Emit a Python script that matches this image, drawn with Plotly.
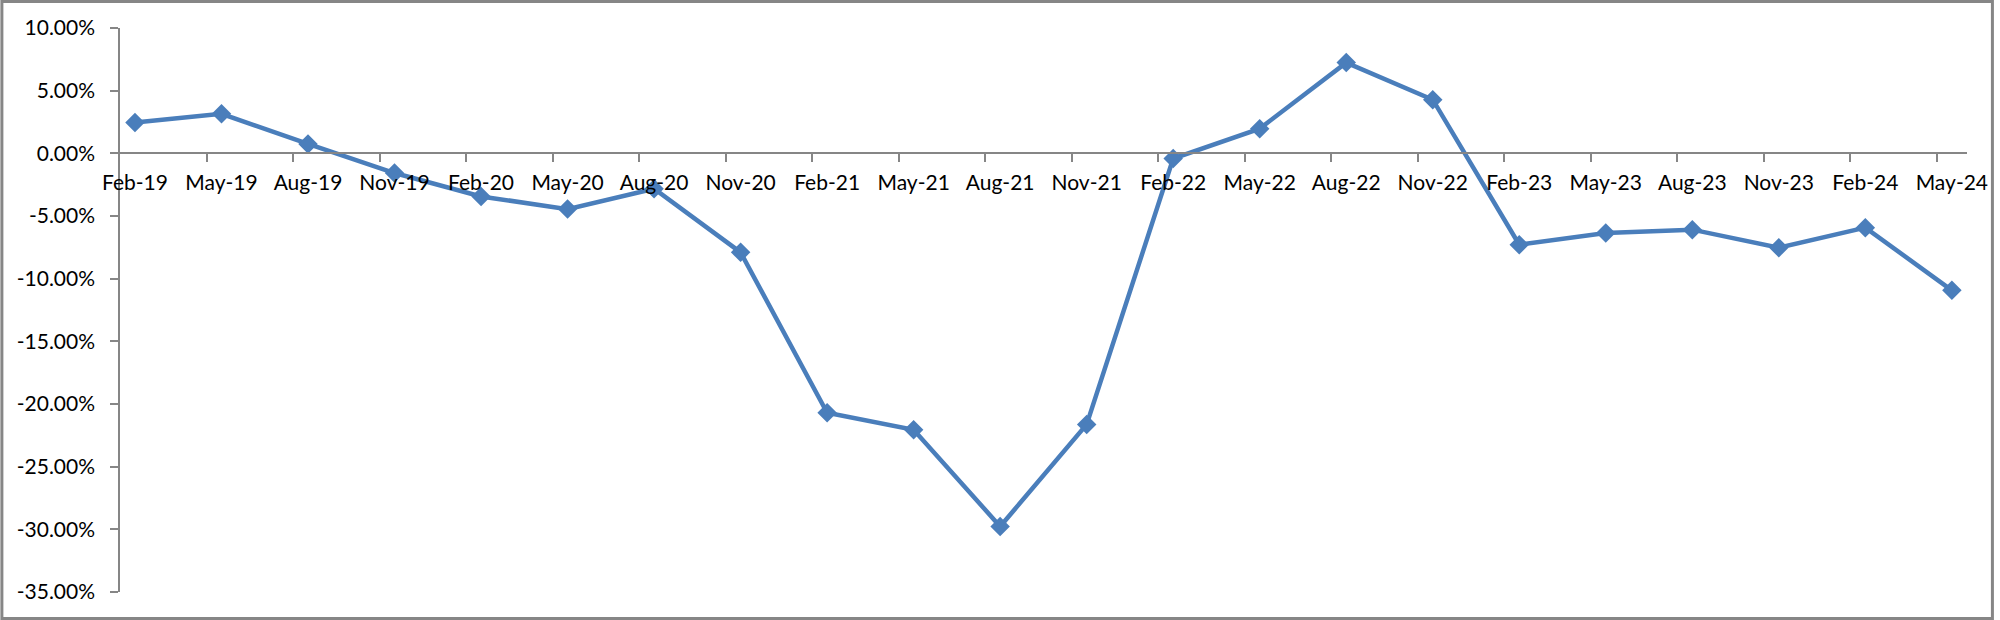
import plotly.graph_objects as go

categories = ["Feb-19", "May-19", "Aug-19", "Nov-19", "Feb-20", "May-20", "Aug-20", "Nov-20",
              "Feb-21", "May-21", "Aug-21", "Nov-21", "Feb-22", "May-22", "Aug-22", "Nov-22",
              "Feb-23", "May-23", "Aug-23", "Nov-23", "Feb-24", "May-24"]
values = [2.46, 3.15, 0.75, -1.57, -3.44, -4.45, -2.83, -7.90,
          -20.70, -22.05, -29.77, -21.63, -0.42, 1.97, 7.24, 4.28,
          -7.29, -6.36, -6.09, -7.53, -5.93, -10.93]
y_ticks = [10, 5, 0, -5, -10, -15, -20, -25, -30, -35]

W, H = 2000, 620
ML, MR, MT, MB = 120, 27, 28, 28
PW, PH = W - ML - MR, H - MT - MB

idx = list(range(len(categories)))
offset = 0.173          # categories sit a little right of the tick marks
x_range = [-offset, 21.175]
y_range = [-35, 10]
zero_pos = (0 - y_range[0]) / (y_range[1] - y_range[0])

AXIS = "#868686"
BLUE = "#4A7EBB"
FONT = dict(family="Lato, 'Open Sans', sans-serif", size=21, color="#000000")

fig = go.Figure()
fig.add_trace(go.Scatter(
    x=idx, y=values, mode="lines+markers",
    line=dict(color=BLUE, width=4.5),
    marker=dict(symbol="diamond", size=15, color=BLUE, line=dict(width=0)),
    showlegend=False, hoverinfo="skip", cliponaxis=False,
))
# helper trace for the tick-mark axis
fig.add_trace(go.Scatter(
    x=idx, y=values, xaxis="x2", mode="lines",
    line=dict(width=0, color="rgba(0,0,0,0)"), showlegend=False, hoverinfo="skip",
))

fig.update_layout(
    width=W, height=H, autosize=False,
    margin=dict(l=ML, r=MR, t=MT, b=MB, pad=0),
    paper_bgcolor="white", plot_bgcolor="white",
    font=FONT,
    xaxis=dict(
        range=x_range, tickmode="array", tickvals=idx, ticktext=categories,
        ticks="outside", ticklen=11, tickcolor="rgba(0,0,0,0)",
        showline=True, linecolor=AXIS, linewidth=1.5,
        showgrid=False, zeroline=False,
        anchor="free", position=zero_pos, tickfont=FONT,
    ),
    xaxis2=dict(
        range=x_range, overlaying="x", anchor="free", position=zero_pos,
        tickmode="array", tickvals=[k - offset for k in range(1, 22)],
        ticks="outside", ticklen=8, tickcolor=AXIS, tickwidth=1.5,
        showticklabels=False, showline=False, showgrid=False, zeroline=False,
        side="bottom",
    ),
    yaxis=dict(
        range=y_range, tickmode="array", tickvals=y_ticks,
        ticktext=[f"{v:.2f}%" for v in y_ticks],
        ticks="outside", ticklen=8, tickcolor=AXIS, tickwidth=1.5,
        showline=True, linecolor=AXIS, linewidth=1.5,
        showgrid=False, zeroline=False, tickfont=FONT,
        ticklabelstandoff=11,
    ),
    shapes=[dict(
        type="rect", xref="paper", yref="paper",
        x0=(-ML + 1.5) / PW, x1=1 + (MR - 1.5) / PW,
        y0=(-MB + 1.5) / PH, y1=1 + (MT - 1.5) / PH,
        line=dict(color=AXIS, width=3), fillcolor="rgba(0,0,0,0)", layer="below",
    )],
)

fig.write_html("out.html", config={"displayModeBar": False},
               post_script="document.body.style.margin='0';document.body.style.overflow='hidden';")
